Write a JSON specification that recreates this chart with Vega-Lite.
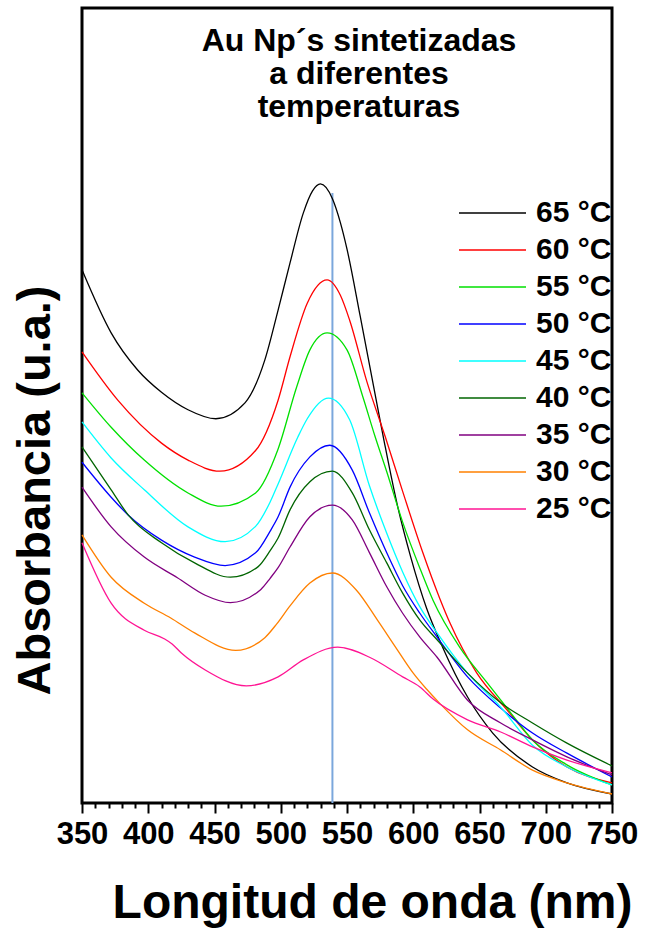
{
  "$schema": "https://vega.github.io/schema/vega-lite/v6.json",
  "width": 530,
  "height": 795,
  "autosize": {"type": "none"},
  "padding": {"left": 82, "top": 8, "right": 34, "bottom": 125},
  "background": "white",
  "config": {
    "font": "Liberation Sans",
    "view": {"stroke": "black", "strokeWidth": 3},
    "axis": {"domain": false, "grid": false, "tickColor": "black", "tickWidth": 2, "labelColor": "black", "titleColor": "black"}
  },
  "title": {
    "text": ["Au Np´s sintetizadas", "a diferentes", "temperaturas"],
    "font": "Liberation Sans",
    "fontSize": 32,
    "fontWeight": "bold",
    "lineHeight": 33,
    "anchor": "middle",
    "frame": "group",
    "color": "black",
    "dx": 12,
    "dy": 120
  },
  "datasets": {
    "marker": [{"w": 539, "a": 0, "a2": 1.151}],
    "spectra": [
      {"w":350,"a":1.006,"t":"65 °C"},{"w":372,"a":0.887,"t":"65 °C"},{"w":392,"a":0.817,"t":"65 °C"},{"w":410,"a":0.775,"t":"65 °C"},{"w":430,"a":0.742,"t":"65 °C"},{"w":451,"a":0.725,"t":"65 °C"},{"w":473,"a":0.755,"t":"65 °C"},{"w":488,"a":0.836,"t":"65 °C"},{"w":498,"a":0.930,"t":"65 °C"},{"w":507,"a":1.019,"t":"65 °C"},{"w":517,"a":1.113,"t":"65 °C"},{"w":524,"a":1.155,"t":"65 °C"},{"w":530,"a":1.168,"t":"65 °C"},{"w":539,"a":1.140,"t":"65 °C"},{"w":545,"a":1.095,"t":"65 °C"},{"w":550,"a":1.045,"t":"65 °C"},{"w":560,"a":0.918,"t":"65 °C"},{"w":570,"a":0.787,"t":"65 °C"},{"w":578,"a":0.683,"t":"65 °C"},{"w":588,"a":0.562,"t":"65 °C"},{"w":598,"a":0.465,"t":"65 °C"},{"w":610,"a":0.368,"t":"65 °C"},{"w":622,"a":0.295,"t":"65 °C"},{"w":641,"a":0.200,"t":"65 °C"},{"w":660,"a":0.132,"t":"65 °C"},{"w":690,"a":0.068,"t":"65 °C"},{"w":716,"a":0.038,"t":"65 °C"},{"w":750,"a":0.017,"t":"65 °C"},
      {"w":350,"a":0.851,"t":"60 °C"},{"w":377,"a":0.760,"t":"60 °C"},{"w":410,"a":0.679,"t":"60 °C"},{"w":430,"a":0.647,"t":"60 °C"},{"w":454,"a":0.626,"t":"60 °C"},{"w":481,"a":0.665,"t":"60 °C"},{"w":498,"a":0.760,"t":"60 °C"},{"w":507,"a":0.842,"t":"60 °C"},{"w":520,"a":0.943,"t":"60 °C"},{"w":535,"a":0.987,"t":"60 °C"},{"w":545,"a":0.958,"t":"60 °C"},{"w":552,"a":0.911,"t":"60 °C"},{"w":565,"a":0.795,"t":"60 °C"},{"w":579,"a":0.690,"t":"60 °C"},{"w":592,"a":0.588,"t":"60 °C"},{"w":607,"a":0.474,"t":"60 °C"},{"w":620,"a":0.386,"t":"60 °C"},{"w":628,"a":0.338,"t":"60 °C"},{"w":648,"a":0.245,"t":"60 °C"},{"w":671,"a":0.175,"t":"60 °C"},{"w":690,"a":0.119,"t":"60 °C"},{"w":716,"a":0.068,"t":"60 °C"},{"w":750,"a":0.038,"t":"60 °C"},
      {"w":350,"a":0.774,"t":"55 °C"},{"w":372,"a":0.709,"t":"55 °C"},{"w":397,"a":0.647,"t":"55 °C"},{"w":430,"a":0.585,"t":"55 °C"},{"w":455,"a":0.560,"t":"55 °C"},{"w":481,"a":0.585,"t":"55 °C"},{"w":498,"a":0.668,"t":"55 °C"},{"w":512,"a":0.785,"t":"55 °C"},{"w":522,"a":0.855,"t":"55 °C"},{"w":535,"a":0.887,"t":"55 °C"},{"w":550,"a":0.855,"t":"55 °C"},{"w":562,"a":0.766,"t":"55 °C"},{"w":571,"a":0.693,"t":"55 °C"},{"w":580,"a":0.625,"t":"55 °C"},{"w":592,"a":0.530,"t":"55 °C"},{"w":605,"a":0.443,"t":"55 °C"},{"w":615,"a":0.382,"t":"55 °C"},{"w":635,"a":0.294,"t":"55 °C"},{"w":656,"a":0.226,"t":"55 °C"},{"w":673,"a":0.172,"t":"55 °C"},{"w":690,"a":0.119,"t":"55 °C"},{"w":716,"a":0.072,"t":"55 °C"},{"w":750,"a":0.034,"t":"55 °C"},
      {"w":350,"a":0.643,"t":"50 °C"},{"w":372,"a":0.577,"t":"50 °C"},{"w":385,"a":0.543,"t":"50 °C"},{"w":410,"a":0.496,"t":"50 °C"},{"w":435,"a":0.464,"t":"50 °C"},{"w":458,"a":0.448,"t":"50 °C"},{"w":481,"a":0.472,"t":"50 °C"},{"w":492,"a":0.513,"t":"50 °C"},{"w":498,"a":0.540,"t":"50 °C"},{"w":507,"a":0.596,"t":"50 °C"},{"w":522,"a":0.653,"t":"50 °C"},{"w":537,"a":0.675,"t":"50 °C"},{"w":554,"a":0.628,"t":"50 °C"},{"w":567,"a":0.547,"t":"50 °C"},{"w":580,"a":0.472,"t":"50 °C"},{"w":592,"a":0.410,"t":"50 °C"},{"w":605,"a":0.358,"t":"50 °C"},{"w":618,"a":0.313,"t":"50 °C"},{"w":641,"a":0.238,"t":"50 °C"},{"w":666,"a":0.179,"t":"50 °C"},{"w":690,"a":0.132,"t":"50 °C"},{"w":716,"a":0.094,"t":"50 °C"},{"w":750,"a":0.049,"t":"50 °C"},
      {"w":350,"a":0.719,"t":"45 °C"},{"w":372,"a":0.651,"t":"45 °C"},{"w":397,"a":0.591,"t":"45 °C"},{"w":430,"a":0.521,"t":"45 °C"},{"w":458,"a":0.493,"t":"45 °C"},{"w":481,"a":0.522,"t":"45 °C"},{"w":492,"a":0.568,"t":"45 °C"},{"w":498,"a":0.602,"t":"45 °C"},{"w":513,"a":0.691,"t":"45 °C"},{"w":520,"a":0.725,"t":"45 °C"},{"w":536,"a":0.764,"t":"45 °C"},{"w":552,"a":0.723,"t":"45 °C"},{"w":567,"a":0.598,"t":"45 °C"},{"w":580,"a":0.509,"t":"45 °C"},{"w":592,"a":0.436,"t":"45 °C"},{"w":605,"a":0.370,"t":"45 °C"},{"w":618,"a":0.321,"t":"45 °C"},{"w":641,"a":0.245,"t":"45 °C"},{"w":666,"a":0.181,"t":"45 °C"},{"w":690,"a":0.109,"t":"45 °C"},{"w":716,"a":0.068,"t":"45 °C"},{"w":750,"a":0.034,"t":"45 °C"},
      {"w":350,"a":0.672,"t":"40 °C"},{"w":372,"a":0.591,"t":"40 °C"},{"w":385,"a":0.543,"t":"40 °C"},{"w":410,"a":0.491,"t":"40 °C"},{"w":435,"a":0.453,"t":"40 °C"},{"w":462,"a":0.426,"t":"40 °C"},{"w":483,"a":0.446,"t":"40 °C"},{"w":492,"a":0.476,"t":"40 °C"},{"w":498,"a":0.500,"t":"40 °C"},{"w":507,"a":0.553,"t":"40 °C"},{"w":522,"a":0.606,"t":"40 °C"},{"w":539,"a":0.626,"t":"40 °C"},{"w":554,"a":0.585,"t":"40 °C"},{"w":567,"a":0.515,"t":"40 °C"},{"w":580,"a":0.453,"t":"40 °C"},{"w":592,"a":0.396,"t":"40 °C"},{"w":605,"a":0.345,"t":"40 °C"},{"w":618,"a":0.308,"t":"40 °C"},{"w":641,"a":0.245,"t":"40 °C"},{"w":666,"a":0.189,"t":"40 °C"},{"w":690,"a":0.151,"t":"40 °C"},{"w":716,"a":0.113,"t":"40 °C"},{"w":750,"a":0.070,"t":"40 °C"},
      {"w":350,"a":0.596,"t":"35 °C"},{"w":372,"a":0.521,"t":"35 °C"},{"w":397,"a":0.464,"t":"35 °C"},{"w":422,"a":0.425,"t":"35 °C"},{"w":443,"a":0.392,"t":"35 °C"},{"w":462,"a":0.378,"t":"35 °C"},{"w":485,"a":0.403,"t":"35 °C"},{"w":492,"a":0.424,"t":"35 °C"},{"w":498,"a":0.444,"t":"35 °C"},{"w":507,"a":0.483,"t":"35 °C"},{"w":522,"a":0.540,"t":"35 °C"},{"w":539,"a":0.562,"t":"35 °C"},{"w":554,"a":0.534,"t":"35 °C"},{"w":567,"a":0.472,"t":"35 °C"},{"w":580,"a":0.408,"t":"35 °C"},{"w":592,"a":0.358,"t":"35 °C"},{"w":605,"a":0.313,"t":"35 °C"},{"w":618,"a":0.275,"t":"35 °C"},{"w":641,"a":0.194,"t":"35 °C"},{"w":666,"a":0.151,"t":"35 °C"},{"w":690,"a":0.119,"t":"35 °C"},{"w":716,"a":0.087,"t":"35 °C"},{"w":750,"a":0.053,"t":"35 °C"},
      {"w":350,"a":0.506,"t":"30 °C"},{"w":372,"a":0.426,"t":"30 °C"},{"w":397,"a":0.377,"t":"30 °C"},{"w":417,"a":0.349,"t":"30 °C"},{"w":435,"a":0.321,"t":"30 °C"},{"w":466,"a":0.288,"t":"30 °C"},{"w":488,"a":0.312,"t":"30 °C"},{"w":497,"a":0.338,"t":"30 °C"},{"w":507,"a":0.372,"t":"30 °C"},{"w":522,"a":0.415,"t":"30 °C"},{"w":539,"a":0.434,"t":"30 °C"},{"w":557,"a":0.402,"t":"30 °C"},{"w":573,"a":0.345,"t":"30 °C"},{"w":588,"a":0.289,"t":"30 °C"},{"w":600,"a":0.245,"t":"30 °C"},{"w":610,"a":0.215,"t":"30 °C"},{"w":620,"a":0.188,"t":"30 °C"},{"w":641,"a":0.138,"t":"30 °C"},{"w":666,"a":0.100,"t":"30 °C"},{"w":690,"a":0.062,"t":"30 °C"},{"w":716,"a":0.038,"t":"30 °C"},{"w":750,"a":0.017,"t":"30 °C"},
      {"w":350,"a":0.491,"t":"25 °C"},{"w":372,"a":0.377,"t":"25 °C"},{"w":397,"a":0.326,"t":"25 °C"},{"w":412,"a":0.310,"t":"25 °C"},{"w":418,"a":0.300,"t":"25 °C"},{"w":425,"a":0.283,"t":"25 °C"},{"w":443,"a":0.251,"t":"25 °C"},{"w":474,"a":0.221,"t":"25 °C"},{"w":498,"a":0.238,"t":"25 °C"},{"w":517,"a":0.270,"t":"25 °C"},{"w":543,"a":0.294,"t":"25 °C"},{"w":567,"a":0.275,"t":"25 °C"},{"w":592,"a":0.238,"t":"25 °C"},{"w":605,"a":0.219,"t":"25 °C"},{"w":615,"a":0.196,"t":"25 °C"},{"w":641,"a":0.157,"t":"25 °C"},{"w":666,"a":0.134,"t":"25 °C"},{"w":690,"a":0.106,"t":"25 °C"},{"w":716,"a":0.081,"t":"25 °C"},{"w":750,"a":0.057,"t":"25 °C"}
    ]
  },
  "layer": [
    {
      "data": {"name": "marker"},
      "mark": {"type": "rule", "color": "#7ba7dc", "strokeWidth": 2},
      "encoding": {
        "x": {"field": "w", "type": "quantitative", "scale": {"domain": [350, 750], "nice": false},
              "axis": {"orient": "bottom", "values": [360,370,380,390,410,420,430,440,460,470,480,490,510,520,530,540,560,570,580,590,610,620,630,640,660,670,680,690,710,720,730,740], "labels": false, "tickSize": 5, "title": null}},
        "y": {"field": "a", "type": "quantitative", "scale": {"domain": [0, 1.5], "nice": false},
              "axis": {"title": "Absorbancia (u.a.)", "labels": false, "ticks": false, "titleFontSize": 47, "titleFontWeight": "bold", "titleAngle": 270, "titleBaseline": "alphabetic", "titleAlign": "center", "titleX": -33, "titleY": 482}},
        "y2": {"field": "a2"}
      }
    },
    {
      "data": {"name": "spectra"},
      "mark": {"type": "line", "interpolate": "monotone", "strokeWidth": 1.3},
      "encoding": {
        "x": {"field": "w", "type": "quantitative", "scale": {"domain": [350, 750], "nice": false},
              "axis": {"orient": "bottom", "values": [350,400,450,500,550,600,650,700,750], "tickSize": 10, "labelFont": "Liberation Sans", "labelFontSize": 31, "labelFontWeight": "bold", "labelPadding": 6, "labelFlush": false,
                       "title": "Longitud de onda (nm)", "titleFontSize": 48, "titleFontWeight": "bold", "titleBaseline": "alphabetic", "titleAlign": "center", "titleX": 290, "titleY": 114}},
        "y": {"field": "a", "type": "quantitative", "scale": {"domain": [0, 1.5], "nice": false},
              "axis": {"title": "Absorbancia (u.a.)", "labels": false, "ticks": false, "titleFontSize": 47, "titleFontWeight": "bold", "titleAngle": 270, "titleBaseline": "alphabetic", "titleAlign": "center", "titleX": -33, "titleY": 482}},
        "color": {
          "field": "t", "type": "nominal",
          "scale": {"domain": ["65 °C","60 °C","55 °C","50 °C","45 °C","40 °C","35 °C","30 °C","25 °C"],
                    "range": ["#000000","#ff0000","#00e000","#0000ff","#00ffff","#006400","#800080","#ff8000","#ff1493"]},
          "legend": {"title": null, "orient": "none", "legendX": 376, "legendY": 190, "padding": 0,
                     "symbolType": "stroke", "symbolSize": 4489, "symbolStrokeWidth": 1.5, "clipHeight": 30, "rowPadding": 7,
                     "labelFontSize": 30, "labelFontWeight": "bold", "labelColor": "black", "labelOffset": 9, "labelLimit": 200}
        }
      }
    }
  ],
  "resolve": {"axis": {"x": "independent"}}
}
